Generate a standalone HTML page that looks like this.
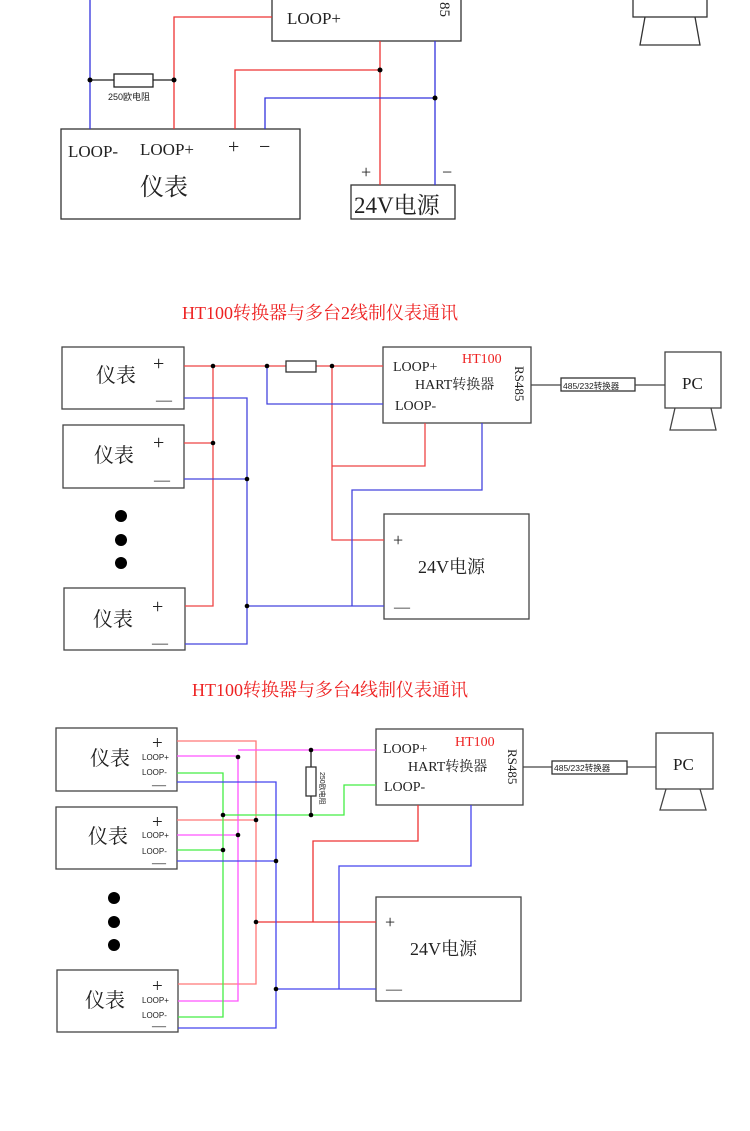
<!DOCTYPE html>
<html><head><meta charset="utf-8"><style>
html,body{margin:0;padding:0;background:#fff;}
svg{display:block;}
text{font-family:"Liberation Serif","Noto Serif CJK SC",serif;fill:#222;}
.s{font-family:"Liberation Sans","Noto Sans CJK SC",sans-serif;}
</style></head><body>
<svg width="750" height="1131" viewBox="0 0 750 1131" xmlns="http://www.w3.org/2000/svg">
<g fill="none" stroke-width="1.3">
<rect x="272" y="-5" width="189" height="46" stroke="#333"/>
<rect x="61" y="129" width="239" height="90" stroke="#333"/>
<rect x="351" y="185" width="104" height="34" stroke="#333"/>
<rect x="633" y="-5" width="74" height="22" stroke="#333"/>
<path d="M645 17 L640 45 L700 45 L695 17" stroke="#333"/>
<path d="M272 17 H174 V129" stroke="#e33"/>
<path d="M90 0 V129" stroke="#33d"/>
<path d="M90 80 H114 M153 80 H174" stroke="#222"/>
<rect x="114" y="74" width="39" height="13" stroke="#222"/>
<path d="M380 41 V185 M380 70 H235 V129" stroke="#e33"/>
<path d="M435 41 V185 M435 98 H265 V129" stroke="#33d"/>
<rect x="62" y="347" width="122" height="62" stroke="#444"/>
<rect x="63" y="425" width="121" height="63" stroke="#444"/>
<rect x="64" y="588" width="121" height="62" stroke="#444"/>
<rect x="383" y="347" width="148" height="76" stroke="#444"/>
<rect x="384" y="514" width="145" height="105" stroke="#444"/>
<rect x="665" y="352" width="56" height="56" stroke="#444"/>
<path d="M675 408 L670 430 L716 430 L711 408" stroke="#444"/>
<rect x="561" y="378" width="74" height="13" stroke="#333"/>
<path d="M531 385 H561 M635 385 H665" stroke="#444"/>
<path d="M184 366 H286 M316 366 H383 M213 366 V606 H185 M184 443 H213 M332 366 V540 H384 M425 423 V466 H332" stroke="#e44"/>
<rect x="286" y="361" width="30" height="11" stroke="#333"/>
<path d="M184 398 H247 V644 H185 M184 479 H247 M267 366 V404 H383 M247 606 H384 M482 423 V490 H352 V606" stroke="#44d"/>
<rect x="56" y="728" width="121" height="63" stroke="#444"/>
<rect x="56" y="807" width="121" height="62" stroke="#444"/>
<rect x="57" y="970" width="121" height="62" stroke="#444"/>
<rect x="376" y="729" width="147" height="76" stroke="#444"/>
<rect x="376" y="897" width="145" height="104" stroke="#444"/>
<rect x="656" y="733" width="57" height="56" stroke="#444"/>
<path d="M666 789 L660 810 L706 810 L700 789" stroke="#444"/>
<rect x="552" y="761" width="75" height="13" stroke="#333"/>
<path d="M523 767 H552 M627 767 H656" stroke="#444"/>
<path d="M177 741 H256 V984 H178 M177 820 H256" stroke="#f77"/>
<path d="M418 805 V841 H313 V922 M256 922 H376" stroke="#e33"/>
<path d="M177 756 H238 V1001 H178 M177 835 H238 M238 750 H376" stroke="#f5f"/>
<path d="M177 773 H223 V1017 H178 M177 850 H223 M223 815 H344 V785 H376" stroke="#4e4"/>
<path d="M177 782 H276 V1028 H178 M177 861 H276 M276 989 H376 M471 805 V866 H339 V989" stroke="#44e"/>
<path d="M311 750 V767 M311 796 V815" stroke="#222"/>
<rect x="306" y="767" width="10" height="29" stroke="#333"/>
</g>
<g fill="#000">
<circle cx="90" cy="80" r="2.5"/><circle cx="174" cy="80" r="2.5"/><circle cx="380" cy="70" r="2.5"/><circle cx="435" cy="98" r="2.5"/>
<circle cx="213" cy="366" r="2.3"/><circle cx="267" cy="366" r="2.3"/><circle cx="332" cy="366" r="2.3"/><circle cx="213" cy="443" r="2.3"/><circle cx="247" cy="479" r="2.3"/><circle cx="247" cy="606" r="2.3"/>
<circle cx="121" cy="516" r="6"/><circle cx="121" cy="540" r="6"/><circle cx="121" cy="563" r="6"/>
<circle cx="238" cy="757" r="2.3"/><circle cx="311" cy="750" r="2.3"/><circle cx="311" cy="815" r="2.3"/><circle cx="223" cy="815" r="2.3"/><circle cx="256" cy="820" r="2.3"/><circle cx="238" cy="835" r="2.3"/><circle cx="223" cy="850" r="2.3"/><circle cx="276" cy="861" r="2.3"/><circle cx="256" cy="922" r="2.3"/><circle cx="276" cy="989" r="2.3"/>
<circle cx="114" cy="898" r="6"/><circle cx="114" cy="922" r="6"/><circle cx="114" cy="945" r="6"/>
</g>
<text x="287" y="24" font-size="17">LOOP+</text>
<text x="440" y="2" font-size="15" transform="rotate(90 440 2)">85</text>
<text class="s" x="108" y="100" font-size="9">250欧电阻</text>
<text x="68" y="157" font-size="17">LOOP-</text>
<text x="140" y="155" font-size="17">LOOP+</text>
<text x="228" y="153" font-size="20">+</text>
<text x="259" y="153" font-size="20">−</text>
<text x="140" y="195" font-size="24">仪表</text>
<text x="361" y="178" font-size="18">+</text>
<text x="442" y="178" font-size="18">−</text>
<text x="354" y="213" font-size="23">24V电源</text>
<text x="320" y="319" font-size="18" text-anchor="middle" style="fill:#e22">HT100转换器与多台2线制仪表通讯</text>
<text x="96" y="382" font-size="20">仪表</text><text x="153" y="370" font-size="20">+</text><text x="156" y="405" font-size="16">—</text>
<text x="94" y="462" font-size="20">仪表</text><text x="153" y="449" font-size="20">+</text><text x="154" y="485" font-size="16">—</text>
<text x="93" y="626" font-size="20">仪表</text><text x="152" y="613" font-size="20">+</text><text x="152" y="648" font-size="16">—</text>
<text x="393" y="371" font-size="14">LOOP+</text>
<text x="462" y="363" font-size="14" style="fill:#e22">HT100</text>
<text x="415" y="389" font-size="14">HART转换器</text>
<text x="395" y="410" font-size="14">LOOP-</text>
<text x="515" y="366" font-size="13" transform="rotate(90 515 366)">RS485</text>
<text class="s" x="563" y="389" font-size="8.5">485/232转换器</text>
<text x="682" y="389" font-size="17">PC</text>
<text x="393" y="546" font-size="18">+</text>
<text x="418" y="573" font-size="18">24V电源</text>
<text x="394" y="612" font-size="16">—</text>
<text x="330" y="696" font-size="18" text-anchor="middle" style="fill:#e22">HT100转换器与多台4线制仪表通讯</text>
<text x="90" y="765" font-size="20">仪表</text><text x="152" y="749" font-size="19">+</text><text class="s" x="142" y="760" font-size="8">LOOP+</text><text class="s" x="142" y="775" font-size="8">LOOP-</text><text x="152" y="789" font-size="14">—</text>
<text x="88" y="843" font-size="20">仪表</text><text x="152" y="828" font-size="19">+</text><text class="s" x="142" y="838" font-size="8">LOOP+</text><text class="s" x="142" y="854" font-size="8">LOOP-</text><text x="152" y="867" font-size="14">—</text>
<text x="85" y="1007" font-size="20">仪表</text><text x="152" y="992" font-size="19">+</text><text class="s" x="142" y="1003" font-size="8">LOOP+</text><text class="s" x="142" y="1018" font-size="8">LOOP-</text><text x="152" y="1030" font-size="14">—</text>
<text x="320" y="772" font-size="7" transform="rotate(90 320 772)" class="s">250欧电阻</text>
<text x="383" y="753" font-size="14">LOOP+</text>
<text x="455" y="746" font-size="14" style="fill:#e22">HT100</text>
<text x="408" y="771" font-size="14">HART转换器</text>
<text x="384" y="791" font-size="14">LOOP-</text>
<text x="508" y="749" font-size="13" transform="rotate(90 508 749)">RS485</text>
<text class="s" x="554" y="771" font-size="8.5">485/232转换器</text>
<text x="673" y="770" font-size="17">PC</text>
<text x="385" y="928" font-size="18">+</text>
<text x="410" y="955" font-size="18">24V电源</text>
<text x="386" y="994" font-size="16">—</text>
</svg>
</body></html>
